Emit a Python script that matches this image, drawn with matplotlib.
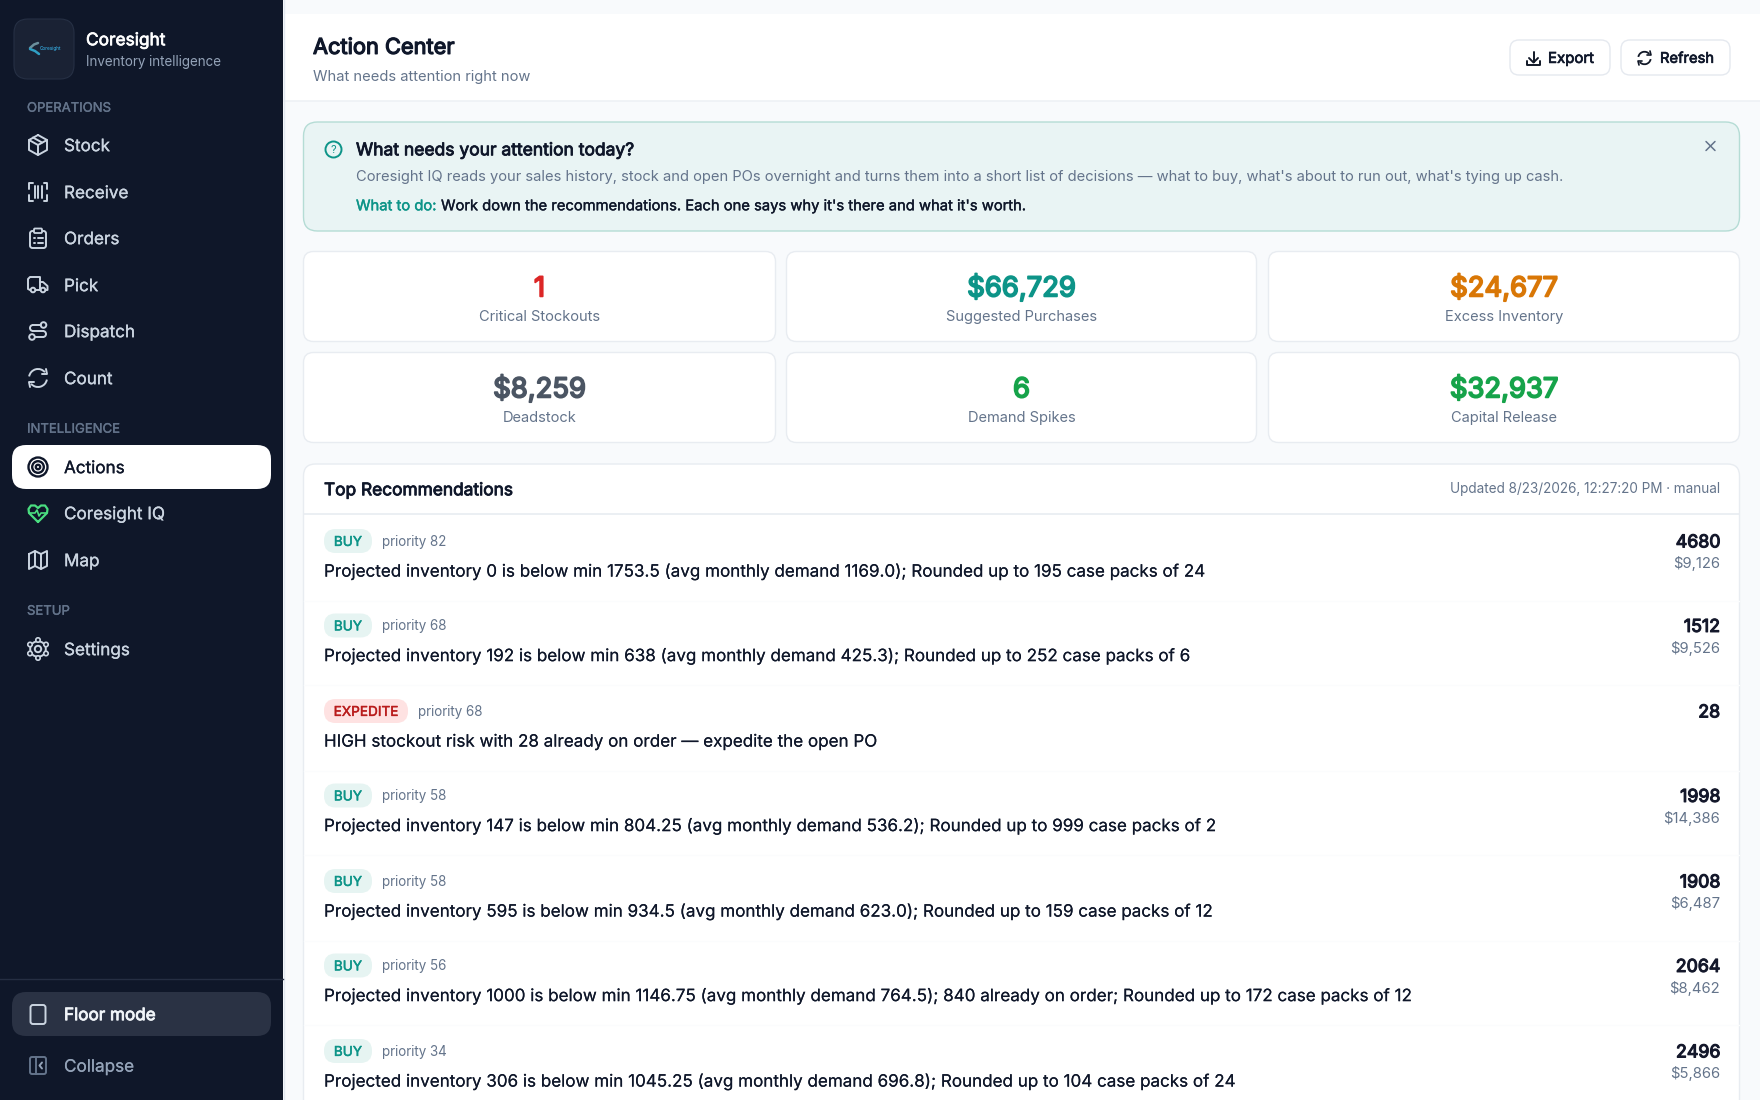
import matplotlib
matplotlib.use("Agg")
import matplotlib.pyplot as plt
from matplotlib.patches import FancyBboxPatch, Rectangle, Circle, Arc
import matplotlib.patheffects as pe

# ---- content ----
brand = "Coresight"
brand_sub = "Inventory intelligence"
sections = ["OPERATIONS", "INTELLIGENCE", "SETUP"]
section_y = [107, 428, 610]
nav_labels = ["Stock", "Receive", "Orders", "Pick", "Dispatch", "Count", "Actions", "Coresight IQ", "Map", "Settings"]
nav_y = [145, 192, 238, 285, 331, 378, 467, 513, 560, 649]
page_title = "Action Center"
page_sub = "What needs attention right now"
banner_title = "What needs your attention today?"
banner_body = ("Coresight IQ reads your sales history, stock and open POs overnight and turns them into a short "
               "list of decisions — what to buy, what's about to run out, what's tying up cash.")
banner_todo_a = "What to do:"
banner_todo_b = "Work down the recommendations. Each one says why it's there and what it's worth."
stat_values = ["1", "$66,729", "$24,677", "$8,259", "6", "$32,937"]
stat_labels = ["Critical Stockouts", "Suggested Purchases", "Excess Inventory", "Deadstock", "Demand Spikes", "Capital Release"]
stat_colors = ["#dc2626", "#0d9488", "#d97706", "#4b5563", "#16a34a", "#16a34a"]
panel_title = "Top Recommendations"
panel_updated = "Updated 8/23/2026, 12:27:20 PM · manual"
rec_types = ["BUY", "BUY", "EXPEDITE", "BUY", "BUY", "BUY", "BUY"]
rec_priority = [82, 68, 68, 58, 58, 56, 34]
rec_text = [
    "Projected inventory 0 is below min 1753.5 (avg monthly demand 1169.0); Rounded up to 195 case packs of 24",
    "Projected inventory 192 is below min 638 (avg monthly demand 425.3); Rounded up to 252 case packs of 6",
    "HIGH stockout risk with 28 already on order — expedite the open PO",
    "Projected inventory 147 is below min 804.25 (avg monthly demand 536.2); Rounded up to 999 case packs of 2",
    "Projected inventory 595 is below min 934.5 (avg monthly demand 623.0); Rounded up to 159 case packs of 12",
    "Projected inventory 1000 is below min 1146.75 (avg monthly demand 764.5); 840 already on order; Rounded up to 172 case packs of 12",
    "Projected inventory 306 is below min 1045.25 (avg monthly demand 696.8); Rounded up to 104 case packs of 24",
]
rec_qty = [4680, 1512, 28, 1998, 1908, 2064, 2496]
rec_cost = ["$9,126", "$9,526", "", "$14,386", "$6,487", "$8,462", "$5,866"]
rec_badge_y = [541, 625.5, 711, 795.5, 881, 965.5, 1051]

# ---- helpers ----
W, H = 1760, 1100
plt.rcParams["font.family"] = ["Inter", "DejaVu Sans"]
fig = plt.figure(figsize=(W / 100, H / 100), dpi=100)
ax = fig.add_axes([0, 0, 1, 1])
ax.set_xlim(0, W)
ax.set_ylim(H, 0)
ax.axis("off")

def txt(x, y, s, px, color, w=0.0, ha="left"):
    """y is the visual middle of cap height."""
    t = ax.text(x, y + px * 0.36, s, fontsize=px * 0.72, color=color, ha=ha, va="baseline", zorder=5)
    if w:
        t.set_path_effects([pe.withStroke(linewidth=w, foreground=color)])
    return t

def rbox(x0, y0, x1, y1, r, fc, ec="none", lw=1.0, z=2):
    p = FancyBboxPatch((x0 + r, y0 + r), x1 - x0 - 2 * r, y1 - y0 - 2 * r,
                       boxstyle=f"round,pad={r},rounding_size={r}", fc=fc, ec=ec, lw=lw, zorder=z)
    ax.add_patch(p)

def ln(xs, ys, c, lw=1.4, z=6, closed=False):
    if closed:
        xs = list(xs) + [xs[0]]
        ys = list(ys) + [ys[0]]
    ax.plot(xs, ys, color=c, lw=lw, zorder=z, solid_capstyle="round", solid_joinstyle="round")

def circ(x, y, r, ec, lw=1.4, fc="none", z=6):
    ax.add_patch(Circle((x, y), r, fc=fc, ec=ec, lw=lw, zorder=z))

# ---- backgrounds ----
ax.add_patch(Rectangle((0, 0), W, H, fc="#f8fafc", ec="none", zorder=0))
ax.add_patch(Rectangle((284, 14), W - 284, 87, fc="#ffffff", ec="none", zorder=1))
ax.plot([284, W], [101, 101], color="#eef1f5", lw=1.2, zorder=1)
ax.add_patch(Rectangle((0, 0), 283, H, fc="#0f1729", ec="none", zorder=1))
ax.plot([283.5, 283.5], [0, H], color="#e2e8f0", lw=1, zorder=1)

# ---- sidebar ----
rbox(14, 19, 74, 79, 14, "#1a2234", "#263044", 0.8)
ln([30, 34, 38], [48, 44.5, 43], "#6b8f9c", 1.8)
ln([30, 35, 39], [49, 51, 54], "#2f9fc4", 1.8)
ax.text(40, 48.5, "Coresight", fontsize=3.4, color="#38bdf8", va="center", zorder=6)
txt(86, 39, brand, 17.3, "#ffffff", 0.5)
txt(86, 61.5, brand_sub, 13.4, "#94a3b8")
for s, y in zip(sections, section_y):
    txt(27, y, s, 13.1, "#64748b", 0.25)

rbox(12, 445, 271, 489, 14, "#ffffff")
rbox(12, 992, 271, 1036, 14, "#2a3244")
ax.plot([0, 283], [979, 979], color="#252e42", lw=1, zorder=2)

icon_c = "#cbd5e1"
for lab, y in zip(nav_labels, nav_y):
    col = "#0f172a" if lab == "Actions" else "#cbd5e1"
    txt(64, y, lab, 17.1, col, 0.2)

# Stock: box
ln([38, 47, 47, 38, 29, 29], [135, 140, 150, 155, 150, 140], icon_c, closed=True)
ln([29, 38, 47], [140, 145, 140], icon_c)
ln([38, 38], [145, 155], icon_c)
ln([33, 42], [137.5, 142.5], icon_c)
# Receive: scan
for sx, sy in [(29, 183), (47, 183), (29, 201), (47, 201)]:
    dx = 3.5 if sx == 29 else -3.5
    dy = 6 if sy == 183 else -6
    ln([sx + dx, sx, sx], [sy, sy, sy + dy], icon_c)
for x in (34.5, 38, 42):
    ln([x, x], [186, 198], icon_c)
# Orders: clipboard
rbox(30, 231, 46, 248, 2.5, "none", icon_c, 1.4, 6)
rbox(34, 228.5, 42, 233, 1, "#0f1729", icon_c, 1.3, 7)
for yy in (237.5, 243):
    ln([34, 35], [yy, yy], icon_c)
    ln([38, 43], [yy, yy], icon_c)
# Pick: truck
ln([40, 40, 30, 28, 28, 30], [290, 277, 277, 279, 289, 290], icon_c)
ln([40, 43, 47.5, 47.5, 46], [282, 282, 286, 290, 290], icon_c)
ln([36, 40], [290, 290], icon_c)
circ(33, 290, 2.3, icon_c, fc="#0f1729")
circ(43, 290, 2.3, icon_c, fc="#0f1729")
# Dispatch: route
circ(43.5, 325, 2.8, icon_c)
circ(32, 337, 2.8, icon_c)
ax.add_patch(Arc((33, 328), 6, 6, theta1=90, theta2=270, ec=icon_c, lw=1.4, zorder=6))
ax.add_patch(Arc((43, 334), 6, 6, theta1=270, theta2=90, ec=icon_c, lw=1.4, zorder=6))
ln([33, 40.7], [325, 325], icon_c)
ln([33, 43], [331, 331], icon_c)
ln([34.8, 43], [337, 337], icon_c)
# Count: refresh
ax.add_patch(Arc((38, 378), 18, 18, theta1=190, theta2=320, ec=icon_c, lw=1.4, zorder=6))
ax.add_patch(Arc((38, 378), 18, 18, theta1=10, theta2=140, ec=icon_c, lw=1.4, zorder=6))
ln([46, 47, 42], [369, 374, 374], icon_c)
ln([30, 29, 34], [387, 382, 382], icon_c)
# Actions: target
for r in (9.5, 5.8, 2.2):
    circ(38, 467, r, "#0f172a", 1.7)
# Coresight IQ: heart
hx = [38, 29, 28.5, 31, 35, 38, 41, 45, 47.5, 47]
hy = [522, 513, 509, 505.5, 505.5, 508, 505.5, 505.5, 509, 513]
ln(hx, hy, "#4ade80", 1.6, closed=True)
ln([29, 35, 37, 39, 41, 47], [513, 513, 510, 516, 513, 513], "#4ade80", 1.2)
# Map
ln([29, 35, 41, 47, 47, 41, 35, 29], [554, 551, 554, 551, 566, 569, 566, 569], icon_c, closed=True)
ln([35, 35], [551, 566], icon_c)
ln([41, 41], [554, 569], icon_c)
# Settings: gear
circ(38, 649, 3.2, icon_c)
circ(38, 649, 7.8, icon_c)
for gx, gy in [(38, 640), (38, 658), (30, 644.5), (46, 644.5), (30, 653.5), (46, 653.5)]:
    circ(gx, gy, 2.2, icon_c, 1.2, "#0f1729", 7)

txt(64, 1014, "Floor mode", 17.1, "#f1f5f9", 0.6)
rbox(30.5, 1005, 45.5, 1024, 2.5, "none", "#cbd5e1", 1.4, 6)
ln([38, 38.3], [1019.5, 1019.5], "#cbd5e1", 1.6)
txt(64, 1065.5, "Collapse", 17.1, "#94a3b8", 0.1)
rbox(30, 1057, 46, 1074, 2, "none", "#64748b", 1.4, 6)
ln([35.5, 35.5], [1057, 1074], "#64748b")
ln([42, 39.5, 42], [1062.5, 1065.5, 1068.5], "#94a3b8")

# ---- header ----
txt(313, 46, page_title, 21.8, "#0f172a", 0.9)
txt(313, 75.5, page_sub, 14.7, "#64748b")
rbox(1510, 40, 1610, 75, 9, "#ffffff", "#e5e9ef", 1)
rbox(1621, 40, 1730, 75, 9, "#ffffff", "#e5e9ef", 1)
txt(1548, 57.5, "Export", 15, "#0f172a", 0.5)
txt(1660, 57.5, "Refresh", 14.7, "#0f172a", 0.5)
ln([1533.5, 1533.5], [52, 62], "#111827")
ln([1529, 1533.5, 1538], [58, 62.5, 58], "#111827")
ln([1527, 1527, 1540, 1540], [61, 65, 65, 61], "#111827")
ax.add_patch(Arc((1644.5, 58), 12.5, 12.5, theta1=190, theta2=320, ec="#111827", lw=1.3, zorder=6))
ax.add_patch(Arc((1644.5, 58), 12.5, 12.5, theta1=10, theta2=140, ec="#111827", lw=1.3, zorder=6))
ln([1650, 1651, 1647], [51, 55, 55], "#111827", 1.2)
ln([1639, 1638, 1642], [65, 61, 61], "#111827", 1.2)

# ---- banner ----
rbox(303.5, 122, 1739.5, 231, 14, "#e9f4f4", "#b5dcd5", 1)
circ(333.5, 149.5, 8, "#0d9488", 1.4)
ax.text(333.5, 150, "?", fontsize=8, color="#0d9488", ha="center", va="center", zorder=6)
txt(356, 149, banner_title, 17.45, "#0f172a", 0.6)
txt(356, 176, banner_body, 14.7, "#64748b")
txt(356, 205, banner_todo_a, 14.75, "#0d9488", 0.3)
txt(441, 205, banner_todo_b, 14.75, "#0f172a", 0.25)
ln([1706, 1715], [141.5, 150.5], "#64748b", 1.1)
ln([1715, 1706], [141.5, 150.5], "#64748b", 1.1)

# ---- stat cards ----
col_x = [(303.5, 775.5), (786.5, 1256.5), (1268.5, 1739.5)]
row_y = [(251.5, 341.5), (352.5, 442.5)]
for i, (v, l, c) in enumerate(zip(stat_values, stat_labels, stat_colors)):
    x0, x1 = col_x[i % 3]
    y0, y1 = row_y[i // 3]
    rbox(x0, y0, x1, y1, 10, "#ffffff", "#e8ecf1", 1)
    xm = (x0 + x1) / 2
    txt(xm, y0 + 35, v, 27.4, c, 1.3, ha="center")
    txt(xm, y0 + 64.5, l, 14.65, "#64748b", ha="center")

# ---- recommendations ----
rbox(303.5, 464, 1739.5, 1140, 12, "#ffffff", "#e8ecf1", 1)
ax.plot([304, 1739], [514, 514], color="#e8ecf1", lw=1.2, zorder=3)
txt(324, 489, panel_title, 17.3, "#0f172a", 0.6)
txt(1720, 488.5, panel_updated, 13.55, "#64748b", ha="right")

for i, (kind, pr, body, qty, cost, by) in enumerate(zip(rec_types, rec_priority, rec_text, rec_qty, rec_cost, rec_badge_y)):
    exp = kind == "EXPEDITE"
    bw = 84 if exp else 48
    rbox(324, by - 12, 324 + bw, by + 12, 11.5, "#fee2e2" if exp else "#e6f4f2")
    txt(324 + bw / 2, by, kind, 13.6, "#b91c1c" if exp else "#0d9488", 0.35, ha="center")
    txt(324 + bw + 10.5, by, f"priority {pr}", 13.4, "#64748b")
    txt(324, by + 29.5, body, 17.03, "#0f172a", 0.05)
    txt(1720, by, str(qty), 17.8, "#14182b", 0.8, ha="right")
    if cost:
        txt(1720, by + 22, cost, 14.8, "#64748b", ha="right")
    if i < 6:
        sy = by + 59.5
        ax.plot([304, 1739], [sy, sy], color="#fbfcfd", lw=1, zorder=3)

fig.savefig("out.png", dpi=100)
